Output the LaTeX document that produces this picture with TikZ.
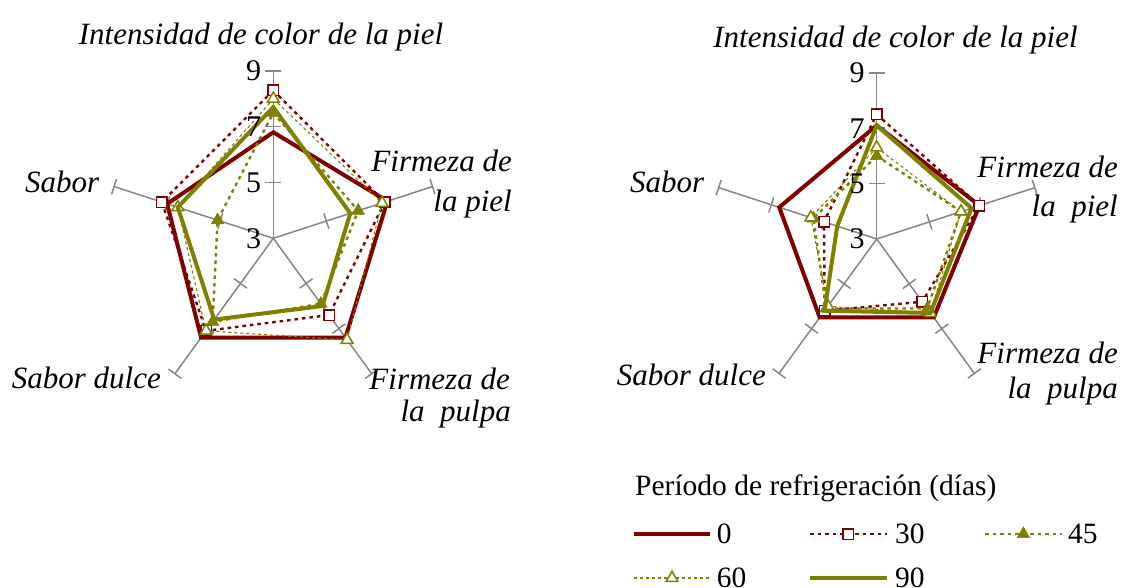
\documentclass[tikz,border=0pt]{standalone}
\usepackage{fontspec}
\setmainfont{Liberation Serif}
\usetikzlibrary{shapes.geometric,calc}
\definecolor{dred}{RGB}{128,0,0}
\definecolor{olv}{RGB}{128,128,0}
\definecolor{axg}{RGB}{134,134,134}
\begin{document}
\begin{tikzpicture}[x=1pt,y=-1pt,
  axisline/.style={draw=axg, line width=1.5pt},
  s0/.style={draw=dred, line width=4pt, line join=miter},
  s30/.style={draw=dred, line width=2.4pt, dash pattern=on 3.5pt off 4pt},
  s45/.style={draw=olv, line width=2.4pt, dash pattern=on 3.5pt off 4pt},
  s60/.style={draw=olv, line width=1.1pt, dash pattern=on 3pt off 3pt},
  s90/.style={draw=olv, line width=4pt, line join=miter},
  sqmark/.style={rectangle, draw=dred, fill=white, line width=1.5pt, minimum size=10.5pt, inner sep=0pt},
  trifill/.style={regular polygon, regular polygon sides=3, fill=olv, draw=olv, line width=0.5pt, minimum size=14.5pt, inner sep=0pt},
  triopen/.style={regular polygon, regular polygon sides=3, draw=olv, fill=white, line width=1.5pt, minimum size=13.5pt, inner sep=0pt},
  lbl/.style={font=\fontsize{31}{35}\selectfont\itshape, inner sep=0pt},
  num/.style={font=\fontsize{30}{34}\selectfont, inner sep=0pt, anchor=east},
  leg/.style={font=\fontsize{29.5}{34}\selectfont, inner sep=0pt, anchor=base west},
]
\useasboundingbox (0,0) rectangle (1123,588);

% ---------------- left chart ----------------
\begin{scope}[shift={(273.3,238.3)}, yscale=-1]
  \def\rs{27.9}
  \foreach \ang in {90,18,-54,-126,162}{
    \draw[axisline] (0,0) -- (\ang:{6*\rs});
    \foreach \u in {2,4,6}
      \draw[axisline] ($(\ang:{\u*\rs})+(\ang+90:8)$) -- ($(\ang:{\u*\rs})+(\ang-90:8)$);
  }
  \foreach \s/\va/\vb/\vc/\vd/\ve in {0/6.8/7.3/7.4/7.4/7.0, 30/8.3/7.2/6.4/7.1/7.2, 45/7.5/6.2/5.9/6.7/5.1, 60/8.0/7.1/7.5/7.1/6.6, 90/7.7/5.9/6.0/6.6/6.6}{
    \coordinate (L\s-1) at (90:{(\va-3)*\rs});
    \coordinate (L\s-2) at (18:{(\vb-3)*\rs});
    \coordinate (L\s-3) at (-54:{(\vc-3)*\rs});
    \coordinate (L\s-4) at (-126:{(\vd-3)*\rs});
    \coordinate (L\s-5) at (162:{(\ve-3)*\rs});
  }
  \draw[s0] (L0-1) -- (L0-2) -- (L0-3) -- (L0-4) -- (L0-5) -- cycle;
  \draw[s30] (L30-1) -- (L30-2) -- (L30-3) -- (L30-4) -- (L30-5) -- cycle;
  \foreach \i in {1,...,5} \node[sqmark] (mL30-\i) at (L30-\i) {};
  \draw[s45] (L45-1) -- (L45-2) -- (L45-3) -- (L45-4) -- (L45-5) -- cycle;
  \foreach \i in {1,...,5} \node[trifill] (mL45-\i) at (L45-\i) {};
  \draw[s60] (L60-1) -- (L60-2) -- (L60-3) -- (L60-4) -- (L60-5) -- cycle;
  \foreach \i in {1,...,5} \node[triopen] (mL60-\i) at (L60-\i) {};
  \draw[s90] (L90-1) -- (L90-2) -- (L90-3) -- (L90-4) -- (L90-5) -- cycle;
  \foreach \u/\t in {0/3,2/5,4/7,6/9}
    \node[num] (nL\t) at ($(90:{\u*\rs})+(-12,0)$) {\t};
\end{scope}
\node[lbl, anchor=base] (tL) at (261,45) {Intensidad de color de la piel};
\node[lbl, anchor=base east] (fpL1) at (512,171.7) {Firmeza de};
\node[lbl, anchor=base east] (fpL2) at (512,211) {la piel};
\node[lbl, anchor=base east] (fuL1) at (510,389) {Firmeza de};
\node[lbl, anchor=base east] (fuL2) at (511,421.7) {la\ \ pulpa};
\node[lbl, anchor=base west] (sL) at (25,193) {Sabor};
\node[lbl, anchor=base west] (sdL) at (11.7,388) {Sabor dulce};

% ---------------- right chart ----------------
\begin{scope}[shift={(876.7,239)}, yscale=-1]
  \def\rs{27.7}
  \foreach \ang in {90,18,-54,-126,162}{
    \draw[axisline] (0,0) -- (\ang:{6*\rs});
    \foreach \u in {2,4,6}
      \draw[axisline] ($(\ang:{\u*\rs})+(\ang+90:8)$) -- ($(\ang:{\u*\rs})+(\ang-90:8)$);
  }
  \foreach \s/\va/\vb/\vc/\vd/\ve in {0/7.1/6.9/6.5/6.5/6.7, 30/7.5/6.9/5.8/6.2/5.0, 45/6.0/6.2/6.1/6.1/5.4, 60/6.3/6.2/6.3/6.0/5.5, 90/7.1/6.6/6.3/6.2/4.5}{
    \coordinate (R\s-1) at (90:{(\va-3)*\rs});
    \coordinate (R\s-2) at (18:{(\vb-3)*\rs});
    \coordinate (R\s-3) at (-54:{(\vc-3)*\rs});
    \coordinate (R\s-4) at (-126:{(\vd-3)*\rs});
    \coordinate (R\s-5) at (162:{(\ve-3)*\rs});
  }
  \draw[s0] (R0-1) -- (R0-2) -- (R0-3) -- (R0-4) -- (R0-5) -- cycle;
  \draw[s30] (R30-1) -- (R30-2) -- (R30-3) -- (R30-4) -- (R30-5) -- cycle;
  \foreach \i in {1,...,5} \node[sqmark] (mR30-\i) at (R30-\i) {};
  \draw[s45] (R45-1) -- (R45-2) -- (R45-3) -- (R45-4) -- (R45-5) -- cycle;
  \foreach \i in {1,...,5} \node[trifill] (mR45-\i) at (R45-\i) {};
  \draw[s60] (R60-1) -- (R60-2) -- (R60-3) -- (R60-4) -- (R60-5) -- cycle;
  \foreach \i in {1,...,5} \node[triopen] (mR60-\i) at (R60-\i) {};
  \draw[s90] (R90-1) -- (R90-2) -- (R90-3) -- (R90-4) -- (R90-5) -- cycle;
  \foreach \u/\t in {0/3,2/5,4/7,6/9}
    \node[num] (nR\t) at ($(90:{\u*\rs})+(-12,0)$) {\t};
\end{scope}
\node[lbl, anchor=base] (tR) at (895.5,48) {Intensidad de color de la piel};
\node[lbl, anchor=base east] (fpR1) at (1118,178) {Firmeza de};
\node[lbl, anchor=base east] (fpR2) at (1118,216) {la\ \ piel};
\node[lbl, anchor=base east] (fuR1) at (1118,363) {Firmeza de};
\node[lbl, anchor=base east] (fuR2) at (1118,398) {la\ \ pulpa};
\node[lbl, anchor=base west] (sR) at (630,193) {Sabor};
\node[lbl, anchor=base west] (sdR) at (616.7,385) {Sabor dulce};

% ---------------- legend ----------------
\node[leg] (legt) at (635,495) {Período de refrigeración (días)};
\coordinate (a0) at (634,534); \coordinate (b0) at (710,534);
\draw[s0, line width=3.5pt] (a0) -- (b0);
\node[leg] (l0) at (716.7,543) {0};
\coordinate (a30) at (810,534); \coordinate (b30) at (886.7,534);
\draw[s30, line width=1.5pt] (a30) -- (b30);
\node[sqmark] (m30) at ($(a30)!0.5!(b30)$) {};
\node[leg] (l30) at (895,543) {30};
\coordinate (a45) at (985,534); \coordinate (b45) at (1061.7,534);
\draw[s45, line width=1.5pt] (a45) -- (b45);
\node[trifill] (m45) at ($(a45)!0.5!(b45)$) {};
\node[leg] (l45) at (1068,543) {45};
\coordinate (a60) at (634,578); \coordinate (b60) at (710,578);
\draw[s60, line width=1.5pt] (a60) -- (b60);
\node[triopen] (m60) at ($(a60)!0.5!(b60)$) {};
\node[leg] (l60) at (716.7,587) {60};
\coordinate (a90) at (810,578); \coordinate (b90) at (886.7,578);
\draw[s90, line width=3.5pt] (a90) -- (b90);
\node[leg] (l90) at (895,587) {90};
\end{tikzpicture}
\end{document}
